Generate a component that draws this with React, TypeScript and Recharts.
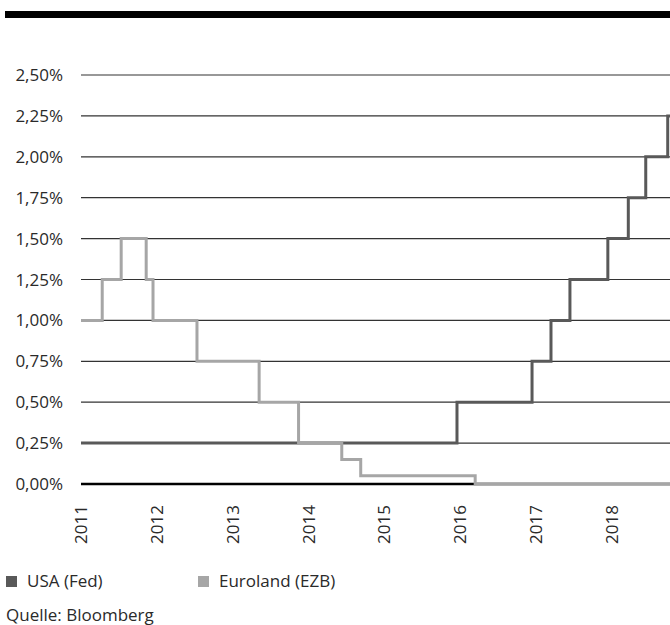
import { LineChart, Line, XAxis, YAxis, CartesianGrid } from 'recharts'

// Leitzinsen in %, Zeitpunkte als Dezimaljahre
const FED_NAME = 'USA (Fed)'
const FED_DATES = [2011.0, 2015.96, 2016.95, 2017.2, 2017.45, 2017.95, 2018.22, 2018.45, 2018.74, 2018.77]
const FED_RATES = [0.25, 0.5, 0.75, 1.0, 1.25, 1.5, 1.75, 2.0, 2.25, 2.25]

const EZB_NAME = 'Euroland (EZB)'
const EZB_DATES = [2011.0, 2011.28, 2011.53, 2011.86, 2011.95, 2012.53, 2013.35, 2013.87, 2014.44, 2014.69, 2016.2, 2018.77]
const EZB_RATES = [1.0, 1.25, 1.5, 1.25, 1.0, 0.75, 0.5, 0.25, 0.15, 0.05, 0.0, 0.0]

const YEAR_TICKS = [2011, 2012, 2013, 2014, 2015, 2016, 2017, 2018]
const RATE_TICKS = [0, 0.25, 0.5, 0.75, 1.0, 1.25, 1.5, 1.75, 2.0, 2.25, 2.5]

const SOURCE = 'Quelle: Bloomberg'

const FED_COLOR = '#595959'
const EZB_COLOR = '#a6a6a6'
const TEXT = '#2a2a2a'
const FONT = '"Open Sans", "Noto Sans", sans-serif'

const fedData = FED_DATES.map((t, i) => ({ t, rate: FED_RATES[i] }))
const ezbData = EZB_DATES.map((t, i) => ({ t, rate: EZB_RATES[i] }))

const fmtRate = (v: number) => v.toFixed(2).replace('.', ',') + '%'

function YearTick({ x, y, payload }: any) {
  const ty = y + 13
  return (
    <text
      x={x}
      y={ty}
      transform={`rotate(-90, ${x}, ${ty})`}
      textAnchor="end"
      dy="0.36em"
      fill={TEXT}
      fontSize={17}
      fontFamily={FONT}
    >
      {payload.value}
    </text>
  )
}

// Nulllinie kräftiger, die übrigen Gitterlinien dünn (unter den Linien gezeichnet)
function GridLine(props: any) {
  const { x1, x2, y1, y2, key } = props
  const isZero = y1 > 480
  return (
    <line
      key={key}
      x1={x1}
      x2={x2}
      y1={y1}
      y2={y2}
      stroke={isZero ? '#000' : '#333'}
      strokeWidth={isZero ? 2.5 : 1.2}
    />
  )
}

export default function App() {
  return (
    <div style={{ position: 'absolute', left: 0, top: 0, width: 670, height: 625, background: '#fff', fontFamily: FONT, color: TEXT }}>
      <div style={{ position: 'absolute', left: 5, top: 11, width: 665, height: 7, background: '#000' }} />
      <div style={{ position: 'absolute', left: 0, top: 0 }}>
        <LineChart width={670} height={545} margin={{ top: 75, right: 0, bottom: 0, left: 0 }}>
          <CartesianGrid vertical={false} horizontal={GridLine} />
          <XAxis
            type="number"
            dataKey="t"
            domain={[2011, 2018.77]}
            ticks={YEAR_TICKS}
            allowDataOverflow
            height={61}
            tick={<YearTick />}
            tickLine={false}
            axisLine={false}
            interval={0}
          />
          <YAxis
            type="number"
            domain={[0, 2.5]}
            ticks={RATE_TICKS}
            width={81}
            tickSize={0}
            tickMargin={18}
            tickLine={false}
            axisLine={false}
            tickFormatter={fmtRate}
            tick={{ fill: TEXT, fontSize: 17, fontFamily: FONT }}
            interval={0}
          />
          <Line
            data={fedData}
            dataKey="rate"
            name={FED_NAME}
            type="stepAfter"
            stroke={FED_COLOR}
            strokeWidth={3}
            dot={false}
            isAnimationActive={false}
          />
          <Line
            data={ezbData}
            dataKey="rate"
            name={EZB_NAME}
            type="stepAfter"
            stroke={EZB_COLOR}
            strokeWidth={3}
            dot={false}
            isAnimationActive={false}
          />
        </LineChart>
      </div>
      <div style={{ position: 'absolute', left: 6, top: 569, fontSize: 17, display: 'flex', alignItems: 'center' }}>
        <span style={{ display: 'inline-block', width: 11, height: 11, background: FED_COLOR, marginRight: 10, marginTop: 2 }} />
        <span style={{ width: 171 }}>{FED_NAME}</span>
        <span style={{ display: 'inline-block', width: 11, height: 11, background: EZB_COLOR, marginRight: 10, marginTop: 2 }} />
        <span>{EZB_NAME}</span>
      </div>
      <div style={{ position: 'absolute', left: 6, top: 603, fontSize: 17 }}>{SOURCE}</div>
    </div>
  )
}
